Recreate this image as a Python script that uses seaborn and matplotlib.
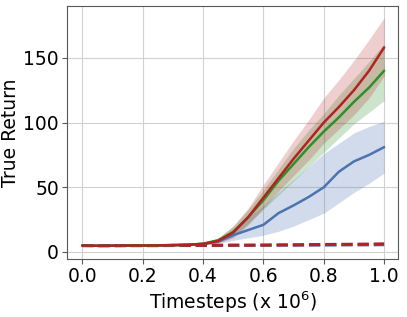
import matplotlib
matplotlib.use("Agg")
import matplotlib.pyplot as plt
import seaborn as sns
import numpy as np
import pandas as pd

steps = [0.0, 0.05, 0.1, 0.15, 0.2, 0.25, 0.3, 0.35, 0.4, 0.45, 0.5,
         0.55, 0.6, 0.65, 0.7, 0.75, 0.8, 0.85, 0.9, 0.95, 1.0]

red_mean = [5.0, 4.8, 4.9, 5.0, 5.0, 5.1, 5.3, 5.6, 6.2, 8.5, 15.0,
            27.0, 42.0, 57.0, 72.0, 86.0, 100.0, 112.0, 125.0, 140.0, 158.0]
red_lo = [4.6, 4.4, 4.5, 4.6, 4.6, 4.7, 4.8, 5.0, 5.4, 7.0, 11.0,
          21.0, 34.0, 47.0, 59.0, 71.0, 84.0, 95.0, 106.0, 119.0, 136.0]
red_hi = [5.4, 5.2, 5.3, 5.4, 5.4, 5.5, 5.8, 6.2, 7.0, 10.5, 20.0,
          34.0, 52.0, 69.0, 86.0, 102.0, 119.0, 133.0, 148.0, 164.0, 181.0]

green_mean = [5.0, 4.8, 4.9, 5.0, 5.0, 5.1, 5.3, 5.6, 6.4, 9.0, 15.5,
              27.0, 40.0, 55.0, 68.0, 81.0, 93.0, 104.0, 116.0, 127.0, 140.0]
green_lo = [4.6, 4.4, 4.5, 4.6, 4.6, 4.7, 4.8, 5.0, 5.5, 7.2, 12.0,
            22.0, 33.0, 44.0, 55.0, 66.0, 77.0, 88.0, 99.0, 108.0, 117.0]
green_hi = [5.4, 5.2, 5.3, 5.4, 5.4, 5.5, 5.8, 6.3, 7.4, 11.0, 20.0,
            33.0, 48.0, 64.0, 80.0, 94.0, 107.0, 121.0, 134.0, 147.0, 161.0]

blue_mean = [5.0, 4.8, 4.9, 5.0, 5.0, 5.1, 5.3, 5.6, 6.3, 8.0, 13.0,
             17.0, 21.0, 30.0, 36.0, 42.5, 50.0, 62.0, 70.0, 75.0, 81.0]
blue_lo = [4.6, 4.4, 4.5, 4.6, 4.6, 4.7, 4.8, 5.0, 5.4, 6.5, 9.0,
           11.0, 13.0, 16.0, 20.0, 25.0, 30.0, 38.0, 46.0, 53.0, 61.0]
blue_hi = [5.4, 5.2, 5.3, 5.4, 5.4, 5.5, 5.8, 6.2, 7.2, 9.5, 18.0,
           27.0, 36.0, 46.0, 56.0, 66.0, 76.0, 84.0, 92.0, 97.0, 101.0]

red_dash = [5.0, 4.9, 4.9, 5.0, 5.0, 5.0, 5.1, 5.1, 5.2, 5.2, 5.3,
            5.3, 5.4, 5.5, 5.6, 5.7, 5.8, 5.9, 6.0, 6.1, 6.3]
blue_dash = [4.9, 4.8, 4.8, 4.9, 4.9, 4.9, 5.0, 5.0, 5.0, 5.0, 5.1,
             5.1, 5.1, 5.2, 5.2, 5.3, 5.3, 5.4, 5.5, 5.5, 5.6]

BLUE = "#4c72b0"
GREEN = "#2a9228"
RED = "#b22222"

sns.set_style("whitegrid", {"axes.edgecolor": "0.35", "grid.color": "0.82",
                            "xtick.bottom": True, "ytick.left": True,
                            "text.color": "black", "axes.labelcolor": "black",
                            "xtick.color": "0.35", "ytick.color": "0.35"})
plt.rcParams["font.family"] = ["DejaVu Sans"]

df = pd.DataFrame({"t": steps, "red": red_mean, "green": green_mean,
                   "blue": blue_mean, "red_d": red_dash, "blue_d": blue_dash})

fig, ax = plt.subplots(figsize=(4.07, 3.17), dpi=100)
fig.subplots_adjust(left=0.165, right=0.978, bottom=0.183, top=0.981)

ax.fill_between(steps, blue_lo, blue_hi, color=BLUE, alpha=0.25, lw=0)
ax.fill_between(steps, green_lo, green_hi, color=GREEN, alpha=0.24, lw=0)
ax.fill_between(steps, red_lo, red_hi, color=RED, alpha=0.22, lw=0)

sns.lineplot(data=df, x="t", y="blue_d", ax=ax, color=BLUE, lw=2.2, linestyle="--")
sns.lineplot(data=df, x="t", y="red_d", ax=ax, color=RED, lw=2.2, linestyle="--")
sns.lineplot(data=df, x="t", y="blue", ax=ax, color=BLUE, lw=1.8)
sns.lineplot(data=df, x="t", y="green", ax=ax, color=GREEN, lw=1.8)
sns.lineplot(data=df, x="t", y="red", ax=ax, color=RED, lw=1.8)

ax.set_xlim(-0.05, 1.046)
ax.set_ylim(-5.4, 190)
ax.set_xticks([0.0, 0.2, 0.4, 0.6, 0.8, 1.0])
ax.set_yticks([0, 50, 100, 150])
ax.tick_params(labelsize=13.5, labelcolor="black", length=3.5, pad=2.5)
ax.set_xlabel("Timesteps (x $10^6$)", fontsize=13.5, labelpad=2)
ax.set_ylabel("True Return", fontsize=13.5, labelpad=2)

fig.savefig("out.png", dpi=100)
